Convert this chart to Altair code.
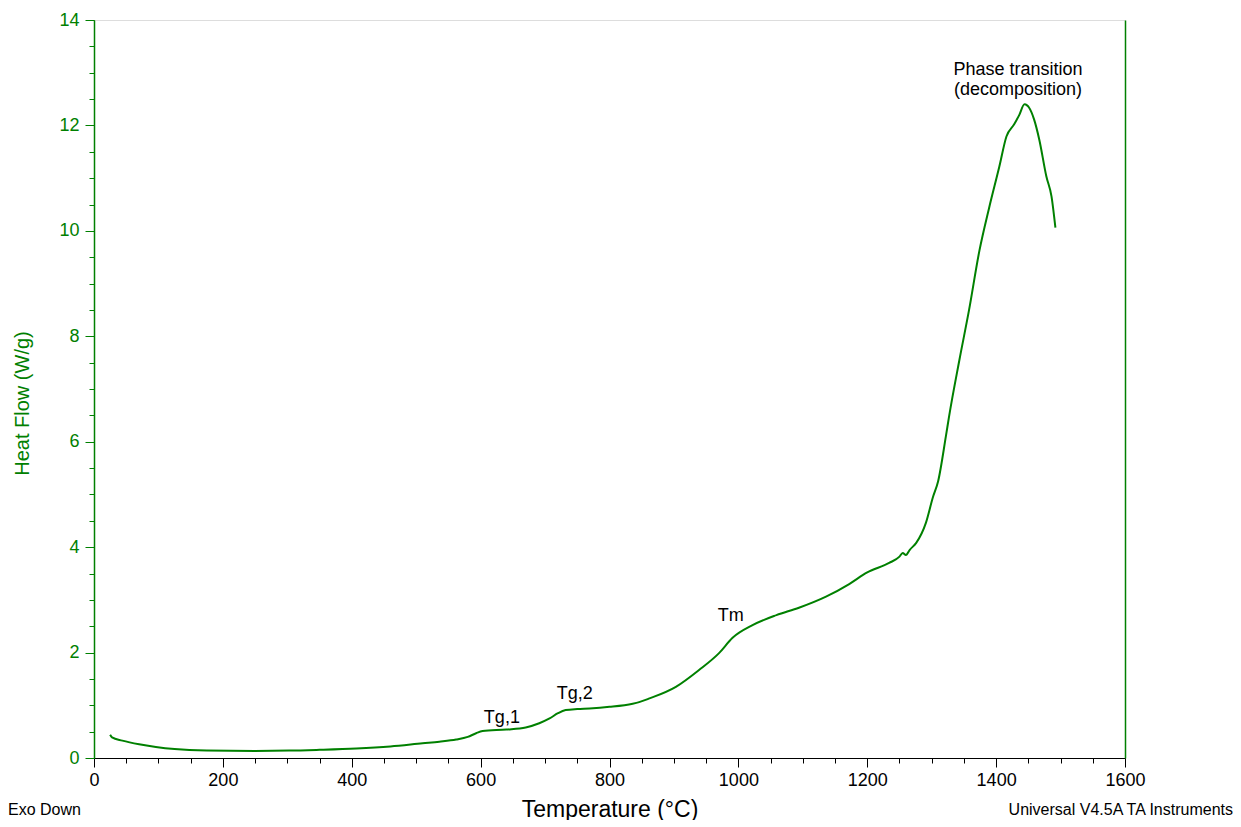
import altair as alt
import pandas as pd

temps = [25, 28, 44, 70, 96, 125, 148, 175, 250, 303, 350, 407, 460, 510, 536, 562, 580, 593, 603,
         640, 670, 691, 707, 720, 732, 750, 769, 800, 836, 846, 862, 903, 939, 970, 991, 1022, 1059,
         1094, 1136, 1172, 1200, 1234, 1250, 1255, 1260, 1266, 1276, 1291, 1302, 1310, 1322, 1327,
         1343, 1358, 1374, 1389, 1405, 1416, 1428, 1436, 1444, 1448, 1451, 1459, 1467, 1478, 1486, 1492]
heat_flow = [0.44, 0.39, 0.33, 0.26, 0.21, 0.17, 0.15, 0.14, 0.135, 0.14, 0.155, 0.18, 0.22, 0.28, 0.31,
             0.35, 0.40, 0.47, 0.51, 0.54, 0.58, 0.66, 0.75, 0.85, 0.91, 0.93, 0.94, 0.97, 1.03, 1.06,
             1.13, 1.35, 1.67, 1.99, 2.28, 2.52, 2.71, 2.85, 3.06, 3.30, 3.52, 3.70, 3.82, 3.89, 3.85,
             3.95, 4.08, 4.46, 4.95, 5.25, 6.10, 6.48, 7.55, 8.50, 9.62, 10.43, 11.22, 11.79, 12.02,
             12.20, 12.40, 12.38, 12.34, 12.11, 11.73, 11.03, 10.65, 10.06]

ann_labels = ["Tg,1", "Tg,2", "Tm", "Phase transition", "(decomposition)"]
ann_t = [633, 746, 988, 1434, 1434]
ann_y = [0.76, 1.22, 2.70, 13.06, 12.68]

x_major = [0, 200, 400, 600, 800, 1000, 1200, 1400, 1600]
x_minor = list(range(0, 1601, 50))
y_major = [0, 2, 4, 6, 8, 10, 12, 14]
y_minor = [i * 0.5 for i in range(29)]

GREEN = "#008000"
FONT = "Liberation Sans"

df = pd.DataFrame({"T": temps, "HF": heat_flow})
ann = pd.DataFrame({"T": ann_t, "HF": ann_y, "label": ann_labels})

xs = alt.Scale(domain=[0, 1600], nice=False, zero=False)
ys = alt.Scale(domain=[0, 14], nice=False)

line = alt.Chart(df).mark_line(color=GREEN, strokeWidth=2, interpolate="monotone").encode(
    x=alt.X("T:Q", scale=xs, axis=alt.Axis(
        values=x_major, orient="bottom", title="Temperature (°C)", titleFontSize=23,
        titleFontWeight="normal", titleColor="black", titleBaseline="alphabetic", titleY=58,
        labelFontSize=18, labelColor="black", labelFlush=False,
        tickSize=9, tickColor="black", domainColor="black", labelPadding=4,
        grid=False, labelFont=FONT, titleFont=FONT, format="d")),
    y=alt.Y("HF:Q", scale=ys, axis=alt.Axis(
        values=y_major, orient="left", title="Heat Flow (W/g)", titleFontSize=20,
        titleFontWeight="normal", titleColor=GREEN, titleY=383, labelFontSize=18,
        labelColor=GREEN, labelFlush=False,
        tickSize=9, tickColor=GREEN, domainColor=GREEN, domainWidth=1.5, labelPadding=6,
        titlePadding=26, grid=False, labelFont=FONT, titleFont=FONT, format="d")),
)

texts = alt.Chart(ann).mark_text(fontSize=18, font=FONT, color="black").encode(
    x=alt.X("T:Q", scale=xs, axis=alt.Axis(
        values=x_minor, orient="bottom", labels=False, title=None, tickSize=5,
        tickColor="black", domain=False, grid=False)),
    y=alt.Y("HF:Q", scale=ys, axis=alt.Axis(
        values=y_minor, orient="left", labels=False, title=None, tickSize=5,
        tickColor=GREEN, domain=False, grid=False)),
    text="label:N",
)

right = alt.Chart(ann).mark_point(opacity=0).encode(
    x=alt.X("T:Q", scale=xs, axis=None),
    y=alt.Y("HF:Q", scale=ys, axis=alt.Axis(
        orient="right", labels=False, ticks=False, title=None, domainColor=GREEN,
        domainWidth=1.5, grid=False)),
)

foot = pd.DataFrame({"label": ["Exo Down", "Universal V4.5A TA Instruments"],
                     "side": ["left", "right"]})
foot_left = alt.Chart(foot[foot.side == "left"]).mark_text(
    fontSize=16, font=FONT, color="black", align="left", baseline="middle").encode(
    x=alt.value(-86), y=alt.value(790), text="label:N")
foot_right = alt.Chart(foot[foot.side == "right"]).mark_text(
    fontSize=16, font=FONT, color="black", align="right", baseline="middle").encode(
    x=alt.value(1139), y=alt.value(790), text="label:N")

chart = alt.layer(line, texts, right, foot_left, foot_right).resolve_axis(
    x="independent", y="independent"
).properties(
    width=1031, height=738,
    padding={"left": 86, "top": 12, "right": 108, "bottom": 62},
    autosize=alt.AutoSizeParams(type="none"),
).configure_view(stroke="black", strokeWidth=1.5).configure(background="white")

chart.save("out.html", embed_options={"renderer": "svg", "actions": False})
